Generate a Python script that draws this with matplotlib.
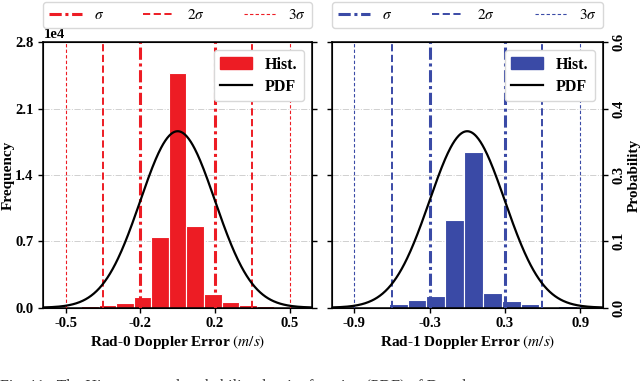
import numpy as np
import matplotlib.pyplot as plt
from matplotlib.ticker import ScalarFormatter, FormatStrFormatter
from matplotlib.lines import Line2D

plt.rcParams['font.family'] = 'Liberation Serif'
plt.rcParams['font.weight'] = 'bold'
plt.rcParams['axes.labelweight'] = 'bold'
plt.rcParams['mathtext.fontset'] = 'custom'
plt.rcParams['mathtext.it'] = 'STIXGeneral:style=italic:weight=normal'
plt.rcParams['mathtext.rm'] = 'STIXGeneral:weight=normal'

# Rad-0 Doppler error histogram (bin centres in m/s, counts)
rad0_centers = [-0.56, -0.48, -0.40, -0.32, -0.24, -0.16, -0.08, 0.0,
                0.08, 0.16, 0.24, 0.32, 0.40, 0.48, 0.56]
rad0_counts = [20, 60, 200, 270, 480, 1150, 7500, 24800,
               8650, 1450, 580, 250, 130, 80, 20]
rad0_width = 0.08
rad0_mu, rad0_sigma = 0.0, 0.17

# Rad-1 Doppler error histogram
rad1_centers = [-1.0, -0.85, -0.7, -0.55, -0.4, -0.25, -0.1, 0.05,
                0.2, 0.35, 0.5, 0.65, 0.8, 0.95]
rad1_counts = [0, 30, 100, 390, 770, 1270, 9250, 16400,
               1510, 660, 350, 100, 180, 30]
rad1_width = 0.15
rad1_mu, rad1_sigma = 0.0, 0.3

freq_max = 2.8e4
prob_max = 0.6

red = '#ed1c24'
blue = '#3a4aa6'

sig_styles = [
    dict(lw=2.2, dashes=(4, 1.2, 1, 1.2)),
    dict(lw=1.4, dashes=(3.7, 1.8)),
    dict(lw=0.8, dashes=(3, 2)),
]


def panel(ax, centers, counts, width, mu, sigma, color, xlabel, right):
    ax.bar(centers, counts, width=width, color=color, edgecolor='white',
           linewidth=0.8, zorder=2)
    handles = []
    for k, st in enumerate(sig_styles, start=1):
        for s in (-1, 1):
            ax.axvline(mu + s * k * sigma, color=color, zorder=3, **st)
        handles.append(Line2D([], [], color=color, **st))
    ax.set_xlim(mu - 3.6 * sigma, mu + 3.6 * sigma)
    ax.set_ylim(0, freq_max)
    ax.set_yticks(np.linspace(0, freq_max, 5))
    ax.set_xticks([mu - 3 * sigma, mu - sigma, mu + sigma, mu + 3 * sigma])
    ax.xaxis.set_major_formatter(FormatStrFormatter('%.1f'))
    ax.grid(axis='y', linestyle='-.', color='#d0d0d0', lw=0.7, zorder=0)
    ax.set_axisbelow(True)
    ax.tick_params(direction='out', length=3.5, width=1, labelsize=10.5)
    ax.set_xlabel(xlabel, fontsize=11, labelpad=2)
    for sp in ax.spines.values():
        sp.set_linewidth(1.1)

    ax.legend(handles, [r'$\sigma$', r'$2\sigma$', r'$3\sigma$'],
              loc='lower left', bbox_to_anchor=(0, 1.053, 1, 0.094),
              mode='expand', ncol=3, borderaxespad=0, handlelength=2.1,
              fontsize=11, fancybox=True, framealpha=1, edgecolor='#d8d8d8')

    tw = ax.twinx()
    z = np.linspace(-3.6, 3.6, 400)
    pdf = np.exp(-z ** 2 / 2) / np.sqrt(2 * np.pi)
    tw.plot(mu + z * sigma, pdf, color='black', lw=1.6)
    tw.set_ylim(0, prob_max)
    tw.set_yticks(np.linspace(0, prob_max, 5))
    tw.yaxis.set_major_formatter(FormatStrFormatter('%.1f'))
    tw.tick_params(direction='out', length=3.5, width=1, labelsize=10.5)

    hist_patch = plt.Rectangle((0, 0), 1, 1, color=color)
    pdf_line = Line2D([], [], color='black', lw=1.6)
    tw.legend([hist_patch, pdf_line], ['Hist.', 'PDF'], loc='upper right',
              fontsize=11.5, handlelength=2.0, fancybox=True, framealpha=1,
              edgecolor='#d8d8d8', borderaxespad=0.5, labelspacing=0.4)

    if right:
        ax.tick_params(axis='y', labelleft=False)
        tw.set_ylabel('Probability', fontsize=11, labelpad=2)
        for lab in tw.get_yticklabels():
            lab.set_rotation(90)
            lab.set_va('center')
    else:
        fmt = ScalarFormatter()
        fmt.set_powerlimits((0, 0))
        ax.yaxis.set_major_formatter(fmt)
        ax.yaxis.get_offset_text().set_fontsize(10.5)
        ax.yaxis.get_offset_text().set_weight('bold')
        ax.set_ylabel('Frequency', fontsize=11)
        ax.yaxis.set_label_coords(-0.108, 0.5)
        tw.tick_params(axis='y', labelright=False)
    return ax


fig = plt.figure(figsize=(6.4, 3.81), dpi=100)
ax0 = fig.add_axes([0.0677, 0.1924, 0.4198, 0.6966])
ax1 = fig.add_axes([0.5183, 0.1924, 0.4234, 0.6966])

panel(ax0, rad0_centers, rad0_counts, rad0_width, rad0_mu, rad0_sigma, red,
      r'Rad-0 Doppler Error $(m/s)$', False)
panel(ax1, rad1_centers, rad1_counts, rad1_width, rad1_mu, rad1_sigma, blue,
      r'Rad-1 Doppler Error $(m/s)$', True)

fig.text(0.0, 0.0045, 'Fig. 11:  The Histogram and probability density function (PDF) of Doppler',
         va='top', ha='left', fontsize=11.5, fontweight='normal', color='#333333')

fig.savefig('out.png', dpi=100)
